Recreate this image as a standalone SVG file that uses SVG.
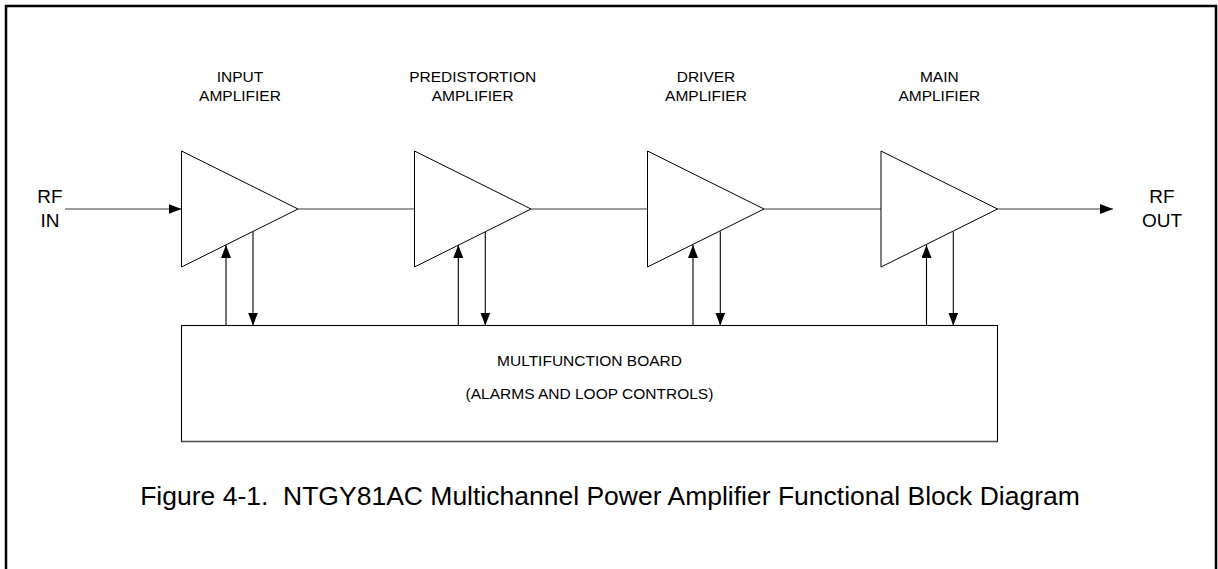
<svg xmlns="http://www.w3.org/2000/svg" width="1218" height="569" viewBox="0 0 1218 569">
  <defs>
    <style>
      .lbl { font-family: "Liberation Sans", Arial, sans-serif; font-size: 15.5px; fill: #000; text-anchor: middle; }
      .io { font-family: "Liberation Sans", Arial, sans-serif; font-size: 19px; fill: #000; text-anchor: middle; }
      .cap { font-family: "Liberation Sans", Arial, sans-serif; font-size: 26.5px; fill: #000; text-anchor: middle; }
      .amp { fill: #fff; stroke: #000; stroke-width: 1; }
      .wire { stroke: #3a3a3a; stroke-width: 1.2; fill: none; }
      .ctl { stroke: #000; stroke-width: 1.1; fill: none; }
    </style>
    <marker id="ah" markerUnits="userSpaceOnUse" markerWidth="14" markerHeight="10" refX="13" refY="5" orient="auto">
      <path d="M0,0 L13,5 L0,10 z" fill="#000"/>
    </marker>
  </defs>
  <rect width="1218" height="569" fill="#fff"/>
  <path d="M6,575 L6,6 L1216,6 L1216,575" fill="none" stroke="#000" stroke-width="2.5"/>

  <g id="connectors">
    <line class="wire" x1="65" y1="209" x2="181.5" y2="209" marker-end="url(#ah)"/>
    <line class="wire" x1="298" y1="209" x2="414.5" y2="209"/>
    <line class="wire" x1="531" y1="209" x2="647.5" y2="209"/>
    <line class="wire" x1="764" y1="209" x2="881" y2="209"/>
    <line class="wire" x1="997.5" y1="209" x2="1113" y2="209" marker-end="url(#ah)"/>
    <line class="ctl" x1="226" y1="325.5" x2="226" y2="245" marker-end="url(#ah)"/>
    <line class="ctl" x1="253" y1="231.5" x2="253" y2="325.5" marker-end="url(#ah)"/>
    <line class="ctl" x1="458.3" y1="325.5" x2="458.3" y2="245" marker-end="url(#ah)"/>
    <line class="ctl" x1="485.3" y1="231.5" x2="485.3" y2="325.5" marker-end="url(#ah)"/>
    <line class="ctl" x1="693" y1="325.5" x2="693" y2="245" marker-end="url(#ah)"/>
    <line class="ctl" x1="720.3" y1="231.5" x2="720.3" y2="325.5" marker-end="url(#ah)"/>
    <line class="ctl" x1="926.5" y1="325.5" x2="926.5" y2="245" marker-end="url(#ah)"/>
    <line class="ctl" x1="953.3" y1="231.5" x2="953.3" y2="325.5" marker-end="url(#ah)"/>
  </g>

  <g id="rf-in">
    <text class="io" x="50" y="203">RF</text>
    <text class="io" x="50" y="227">IN</text>
  </g>
  <g id="rf-out">
    <text class="io" x="1162" y="203">RF</text>
    <text class="io" x="1162" y="227">OUT</text>
  </g>

  <g id="input-amplifier">
    <polygon class="amp" points="181.5,151 181.5,267 298,209"/>
    <text class="lbl" x="240" y="81.5">INPUT</text>
    <text class="lbl" x="240" y="100.5">AMPLIFIER</text>
  </g>
  <g id="predistortion-amplifier">
    <polygon class="amp" points="414.5,151 414.5,267 531,209"/>
    <text class="lbl" x="472.7" y="81.5">PREDISTORTION</text>
    <text class="lbl" x="472.7" y="100.5">AMPLIFIER</text>
  </g>
  <g id="driver-amplifier">
    <polygon class="amp" points="647.5,151 647.5,267 764,209"/>
    <text class="lbl" x="706" y="81.5">DRIVER</text>
    <text class="lbl" x="706" y="100.5">AMPLIFIER</text>
  </g>
  <g id="main-amplifier">
    <polygon class="amp" points="881,151 881,267 997.5,209"/>
    <text class="lbl" x="939.3" y="81.5">MAIN</text>
    <text class="lbl" x="939.3" y="100.5">AMPLIFIER</text>
  </g>

  <g id="multifunction-board">
    <rect x="181.5" y="325.5" width="816" height="116" fill="#fff" stroke="#000" stroke-width="1.1"/>
    <line x1="181.5" y1="441.5" x2="997.5" y2="441.5" stroke="#555" stroke-width="1.6"/>
    <text class="lbl" x="589.5" y="365.5">MULTIFUNCTION BOARD</text>
    <text class="lbl" x="589.5" y="399">(ALARMS AND LOOP CONTROLS)</text>
  </g>

  <g id="caption">
    <text class="cap" x="610" y="505">Figure 4-1.&#160; NTGY81AC Multichannel Power Amplifier Functional Block Diagram</text>
  </g>
</svg>
